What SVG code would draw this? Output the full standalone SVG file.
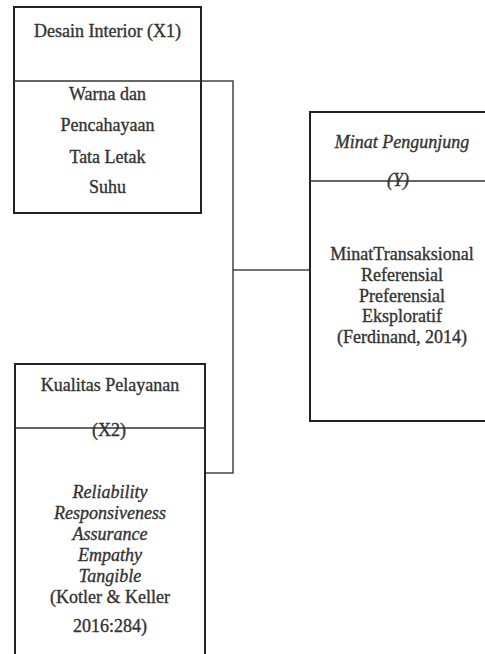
<svg xmlns="http://www.w3.org/2000/svg" width="485" height="654" viewBox="0 0 485 654">
<style>
.box{fill:#fff;stroke:#222;stroke-width:2}
.div{stroke:#333;stroke-width:1.5;fill:none}
.con{stroke:#444;stroke-width:1.5;fill:none}
text{font-family:"Liberation Serif","Times New Roman",serif;font-size:18px;fill:#333;stroke:#333;stroke-width:0.35;text-anchor:middle}
.it{font-style:italic}
</style>
<rect width="485" height="654" fill="#fff"/>
<g id="connectors">
<polyline class="con" points="201,81 233,81 233,473 205,473"/>
<line class="con" x1="233" y1="270" x2="310" y2="270"/>
</g>
<g id="x1">
<rect class="box" x="14" y="7" width="187" height="206"/>
<line class="div" x1="14" y1="81" x2="201" y2="81"/>
<text x="107.5" y="37">Desain Interior (X1)</text>
<text x="107.5" y="100">Warna dan</text>
<text x="107.5" y="131">Pencahayaan</text>
<text x="107.5" y="163">Tata Letak</text>
<text x="107.5" y="193">Suhu</text>
</g>
<g id="y">
<rect class="box" x="310" y="112" width="185" height="309"/>
<text class="it" x="402" y="148">Minat Pengunjung</text>
<text class="it" x="398" y="186">(Y)</text>
<line class="div" x1="310" y1="181" x2="490" y2="181"/>
<text x="402" y="260">MinatTransaksional</text>
<text x="402" y="281">Referensial</text>
<text x="402" y="302">Preferensial</text>
<text x="402" y="322">Eksploratif</text>
<text x="402" y="343">(Ferdinand, 2014)</text>
</g>
<g id="x2">
<rect class="box" x="15" y="364" width="190" height="300"/>
<text x="110" y="391">Kualitas Pelayanan</text>
<text x="109" y="436">(X2)</text>
<line class="div" x1="15" y1="428" x2="205" y2="428"/>
<text class="it" x="110" y="498">Reliability</text>
<text class="it" x="110" y="519">Responsiveness</text>
<text class="it" x="110" y="540">Assurance</text>
<text class="it" x="110" y="561">Empathy</text>
<text class="it" x="110" y="582">Tangible</text>
<text x="110" y="603">(Kotler &amp; Keller</text>
<text x="110" y="632">2016:284)</text>
</g>
</svg>
